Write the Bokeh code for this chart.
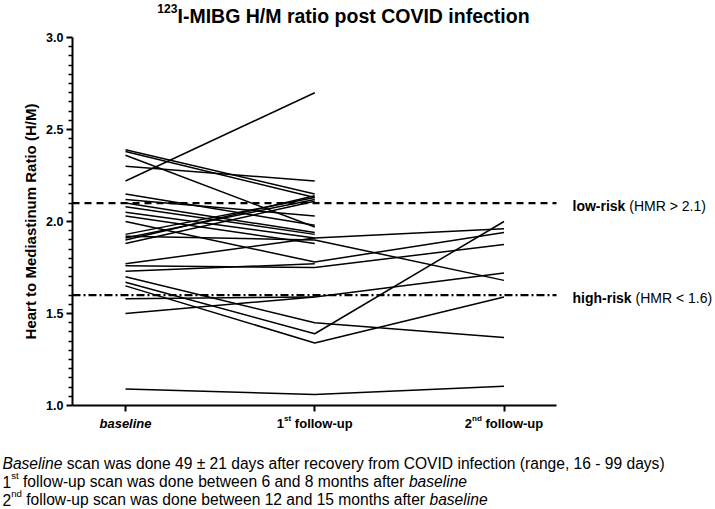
from bokeh.plotting import figure
from bokeh.models import Range1d, Label, FixedTicker, NumeralTickFormatter
from bokeh.embed import file_html
from bokeh.resources import INLINE

# ---------------- data ----------------
timepoints = [0, 1, 2]
timepoint_labels = [
    [("baseline", "bold italic", "n")],
    [("1", "bold", "n"), ("st", "bold", "s"), (" follow-up", "bold", "n")],
    [("2", "bold", "n"), ("nd", "bold", "s"), (" follow-up", "bold", "n")],
]
NA = float("nan")
baseline = [2.39, 2.38, 2.36, 2.30, 2.22, 2.15, 2.12, 2.10, 2.08, 2.05, 2.03, 2.00, 1.93,
            1.91, 1.90, 1.88, 1.92, 1.77, 1.76, 1.73, 1.70, 1.67, 1.65, 1.58, 1.50, 1.09]
followup1 = [2.15, 2.13, 1.97, 2.22, 2.70, 1.98, 2.03, 1.94, 1.93, 1.91, 1.88, 1.78, 2.13,
             2.12, 2.14, 2.11, 1.90, 1.91, 1.75, 1.77, 1.45, 1.39, 1.34, 1.59, 1.59, 1.06]
followup2 = [NA, NA, NA, NA, NA, NA, NA, NA, NA, 1.96, NA, 1.94, NA,
             NA, NA, NA, 1.68, NA, 1.875, NA, 1.37, 2.00, 1.59, NA, 1.72, 1.105]
y_ticks = [1.0, 1.5, 2.0, 2.5, 3.0]
y_minor = [round(1.0 + 0.05 * i, 2) for i in range(41) if i % 10]
low_risk_cut = 2.1
high_risk_cut = 1.6
title_parts = [("123", "bold", "s"), ("I-MIBG H/M ratio post COVID infection", "bold", "n")]
y_axis_title = "Heart to Mediastinum Ratio (H/M)"
low_risk_parts = [("low-risk", "bold", "n"), (" (HMR > 2.1)", "normal", "n")]
high_risk_parts = [("high-risk", "bold", "n"), (" (HMR < 1.6)", "normal", "n")]
footnotes = [
    [("Baseline", "italic", "n"),
     (" scan was done 49 ± 21 days after recovery from COVID infection (range, 16 - 99 days)", "normal", "n")],
    [("1", "normal", "n"), ("st", "normal", "s"),
     (" follow-up scan was done between 6 and 8 months after ", "normal", "n"), ("baseline", "italic", "n")],
    [("2", "normal", "n"), ("nd", "normal", "s"),
     (" follow-up scan was done between 12 and 15 months after ", "normal", "n"), ("baseline", "italic", "n")],
]

# ---------------- text metrics (Arial / Liberation Sans, per 1000 em) ----------------
REG = {' ': 278, '!': 278, '(': 333, ')': 333, ',': 278, '-': 333, '.': 278, '/': 278,
       '<': 584, '>': 584, '±': 549,
       'A': 667, 'B': 667, 'C': 722, 'D': 722, 'E': 667, 'F': 611, 'G': 778, 'H': 722, 'I': 278,
       'M': 833, 'O': 778, 'R': 722, 'V': 667,
       'a': 556, 'b': 556, 'c': 500, 'd': 556, 'e': 556, 'f': 278, 'g': 556, 'h': 556, 'i': 222,
       'k': 500, 'l': 222, 'm': 833, 'n': 556, 'o': 556, 'p': 556, 'r': 333, 's': 500, 't': 278,
       'u': 556, 'v': 500, 'w': 722, 'y': 500}
BOLD = {' ': 278, '(': 333, ')': 333, '-': 333, '.': 278, '/': 278, '<': 584, '>': 584,
        'B': 722, 'C': 722, 'D': 722, 'G': 778, 'H': 722, 'I': 278, 'M': 833, 'O': 778,
        'R': 722, 'V': 667,
        'a': 556, 'b': 611, 'c': 556, 'd': 611, 'e': 556, 'f': 333, 'g': 611, 'h': 611, 'i': 278,
        'k': 556, 'l': 278, 'n': 611, 'o': 611, 'p': 611, 'r': 389, 's': 556, 't': 333,
        'u': 611, 'w': 778, 'y': 556}
FONT = "Liberation Sans"


def text_width(text, style, fs):
    table = BOLD if "bold" in style else REG
    return sum(table.get(c, 556) for c in text) * fs / 1000.0


def add_runs(p, parts, size, x, y, x_units, y_units, align="left", x_off=0.0, y_off=0.0):
    sup = 0.62
    total = 0.0
    for text, style, kind in parts:
        fs = size if kind == "n" else size * sup
        total += text_width(text, style, fs)
    cur = x_off - (total / 2.0 if align == "center" else 0.0)
    for text, style, kind in parts:
        fs = size if kind == "n" else size * sup
        stripped = text.lstrip(" ")
        cur += (len(text) - len(stripped)) * text_width(" ", style, fs)
        body = stripped.rstrip(" ")
        yo = y_off + (size * 0.38 if kind == "s" else 0.0)
        p.add_layout(Label(x=x, y=y, x_units=x_units, y_units=y_units,
                           x_offset=cur, y_offset=yo, text=body,
                           text_font=FONT, text_font_size=f"{fs:.1f}px",
                           text_font_style=style, text_color="black",
                           text_align="left", text_baseline="alphabetic"))
        cur += text_width(stripped, style, fs)


# ---------------- layout geometry ----------------
W, H = 715, 509
PX_X = 189.25          # pixels per time step
PX_Y = 184.0           # pixels per H/M unit
X0_PIX, Y1_PIX = 125, 405   # canvas position of baseline tick / y = 1.0
x_start = timepoints[0] - X0_PIX / PX_X
x_end = x_start + W / PX_X
y_start = y_ticks[0] - (H - Y1_PIX) / PX_Y
y_end = y_start + H / PX_Y
x_axis_bounds = (x_start + 72 / PX_X, x_start + 556 / PX_X)
y_axis_bounds = (y_ticks[0], y_ticks[-1])

p = figure(width=W, height=H, output_backend="svg", toolbar_location=None,
           x_range=Range1d(x_start, x_end), y_range=Range1d(y_start, y_end),
           min_border_left=0, min_border_right=0, min_border_top=0, min_border_bottom=0)
p.grid.visible = False
p.outline_line_color = None
p.background_fill_color = "white"
p.border_fill_color = "white"

# lines per patient
xs, ys = [], []
for b, f1, f2 in zip(baseline, followup1, followup2):
    vals = [b, f1, f2]
    xs.append([t for t, v in zip(timepoints, vals) if v == v])
    ys.append([v for v in vals if v == v])
p.multi_line(xs, ys, line_color="black", line_width=1.5)

# reference lines (spanning the axis extent)
p.segment(x0=[x_axis_bounds[0]], x1=[x_axis_bounds[1]], y0=[low_risk_cut], y1=[low_risk_cut],
          line_color="black", line_width=2.2, line_dash="7 5")
p.segment(x0=[x_axis_bounds[0]], x1=[x_axis_bounds[1]], y0=[high_risk_cut], y1=[high_risk_cut],
          line_color="black", line_width=2.2, line_dash="8 3 2 3")

# y axis
ya = p.yaxis[0]
ya.fixed_location = x_axis_bounds[0]
ya.bounds = y_axis_bounds
ya.ticker = FixedTicker(ticks=y_ticks, minor_ticks=y_minor)
ya.formatter = NumeralTickFormatter(format="0.0")
ya.axis_line_width = 2
ya.major_tick_line_width = 2
ya.minor_tick_line_width = 1.5
ya.major_tick_out = 6
ya.major_tick_in = 0
ya.minor_tick_out = 4
ya.minor_tick_in = 0
ya.major_label_standoff = 3
ya.major_label_text_font = FONT
ya.major_label_text_font_style = "bold"
ya.major_label_text_font_size = "12.5px"
ya.major_label_text_color = "black"
ya.axis_label = y_axis_title
ya.axis_label_text_font = FONT
ya.axis_label_text_font_style = "bold"
ya.axis_label_text_font_size = "15px"
ya.axis_label_text_color = "black"
ya.axis_label_standoff = 4

# x axis
xa = p.xaxis[0]
xa.fixed_location = y_ticks[0]
xa.bounds = x_axis_bounds
xa.ticker = FixedTicker(ticks=timepoints, minor_ticks=[])
xa.axis_line_width = 2
xa.major_tick_line_width = 2
xa.major_tick_out = 6
xa.major_tick_in = 0
xa.minor_tick_out = 0
xa.minor_tick_in = 0
xa.major_label_text_alpha = 0
xa.major_label_text_font_size = "10px"

# x tick labels (rich text) under the axis
for t, parts in zip(timepoints, timepoint_labels):
    add_runs(p, parts, 13, t, y_ticks[0], "data", "data", align="center", y_off=-18)

# cut-off labels right of the plot
add_runs(p, low_risk_parts, 14, 572, low_risk_cut, "screen", "data", y_off=-3)
add_runs(p, high_risk_parts, 14, 572, high_risk_cut, "screen", "data", y_off=-3)

# title (canvas y measured from the top -> screen y from the bottom)
add_runs(p, title_parts, 19.5, 343, H - 15, "screen", "screen", align="center")

# footnotes
for i, parts in enumerate(footnotes):
    add_runs(p, parts, 15.6, 2, H - (463 + 18 * i), "screen", "screen")

open("out.html", "w").write(file_html(p, INLINE))
